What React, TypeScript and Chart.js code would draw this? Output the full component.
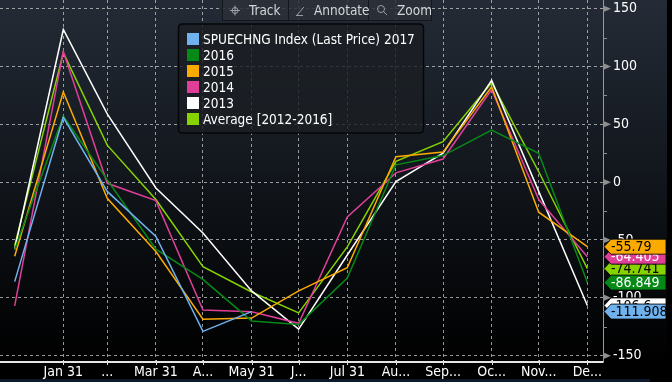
import React, { useEffect, useRef } from 'react';
import { Chart, registerables } from 'chart.js';

Chart.register(...registerables);

const FONT = "'Liberation Sans Narrow', 'DejaVu Sans Condensed', 'Arial Narrow', sans-serif";

// x positions: days since Dec 31 of prior year (month ends)
const dayOffsets = [0, 31, 59, 90, 120, 151, 181, 212, 243, 273, 304, 334, 365];
const tickDays = [31, 59, 90, 120, 151, 181, 212, 243, 273, 304, 334, 365];
const tickLabels = ['Jan 31', '...', 'Mar 31', 'A...', 'May 31', 'J...', 'Jul 31', 'Au...', 'Sep...', 'Oc...', 'Nov...', 'De...'];
const yTicks = [150, 100, 50, 0, -50, -100, -150];

const seriesNames = ['SPUECHNG Index (Last Price) 2017', '2016', '2015', '2014', '2013', 'Average [2012-2016]'];
const seriesColors = ['#6fb2ee', '#068a17', '#fbab00', '#df3f98', '#ffffff', '#86d300'];
const seriesTagText = ['#000000', '#ffffff', '#000000', '#ffffff', '#000000', '#000000'];

const v2017 = [-86, 56, -8, -47, -129, -111.908];
const v2016 = [-58, 57, 2, -58, -84, -120, -123, -83, 15, 23, 45, 25, -86.849];
const v2015 = [-64, 78, -14, -60, -118.5, -117.5, -94, -74, 22, 26, 82.5, -26, -55.79];
const v2014 = [-107, 113, -1, -16, -110.5, -112, -122, -30, 8, 20, 80, -15, -64.405];
const v2013 = [-58, 132, 59, -5, -44, -94, -127, -63, 0.5, 25, 88, -8, -106.6];
const vAvg = [-55, 112, 32, -15, -73, -95, -113, -56, 18, 35, 86, 9, -74.741];

const seriesValues = [v2017, v2016, v2015, v2014, v2013, vAvg];

// draw order of value tags (later = on top)
const tagOrder = [5, 1, 3, 2, 4, 0];

const bgPlugin = {
  id: 'bg',
  beforeDraw(chart: any) {
    const { ctx, width, height } = chart;
    ctx.save();
    ctx.fillStyle = '#000';
    ctx.fillRect(0, 0, width, height);
    const g = ctx.createLinearGradient(0, 0, 0, 362);
    g.addColorStop(0, '#242b36');
    g.addColorStop(0.4, '#151a21');
    g.addColorStop(0.75, '#080a0d');
    g.addColorStop(1, '#000000');
    ctx.fillStyle = g;
    ctx.fillRect(0, 0, 667, 362);
    ctx.fillStyle = '#0c1b2b';
    ctx.fillRect(0, 379, 650, 3);
    ctx.restore();
  },
};

const overlayPlugin = {
  id: 'overlay',
  afterDraw(chart: any) {
    const { ctx } = chart;
    const ys = chart.scales.y;
    const xs = chart.scales.x;
    const right = chart.chartArea.right;
    const bottom = chart.chartArea.bottom;
    ctx.save();

    // y axis markers
    ctx.fillStyle = '#8e8e8e';
    ctx.strokeStyle = '#8e8e8e';
    ctx.lineWidth = 1;
    for (let v = -150; v <= 150; v += 25) {
      const y = ys.getPixelForValue(v);
      if (v % 50 === 0) {
        ctx.beginPath();
        ctx.moveTo(right, y - 3.5);
        ctx.lineTo(right + 8, y);
        ctx.lineTo(right, y + 3.5);
        ctx.closePath();
        ctx.fill();
      } else {
        ctx.beginPath();
        ctx.moveTo(right, Math.round(y) + 0.5);
        ctx.lineTo(right + 4, Math.round(y) + 0.5);
        ctx.stroke();
      }
    }

    // x tick marks
    ctx.strokeStyle = '#e0e0e0';
    for (const d of tickDays) {
      const x = Math.round(xs.getPixelForValue(d)) + 0.5;
      ctx.beginPath();
      ctx.moveTo(x, bottom - 2);
      ctx.lineTo(x, bottom + 3);
      ctx.stroke();
    }

    // toolbar
    ctx.fillStyle = 'rgba(44,48,56,0.85)';
    ctx.fillRect(222, 0, 210, 21);
    ctx.strokeStyle = '#14171b';
    ctx.strokeRect(222.5, -0.5, 209, 21);
    ctx.beginPath();
    ctx.moveTo(288.5, 0); ctx.lineTo(288.5, 21);
    ctx.moveTo(368.5, 0); ctx.lineTo(368.5, 21);
    ctx.stroke();
    ctx.fillStyle = '#d2d5d9';
    ctx.font = `13.5px ${FONT}`;
    ctx.textBaseline = 'middle';
    ctx.textAlign = 'left';
    ctx.fillText('Track', 249, 11);
    ctx.fillText('Annotate', 314, 11);
    ctx.fillText('Zoom', 397, 11);
    ctx.strokeStyle = '#9a9ea4';
    ctx.lineWidth = 1;
    // crosshair
    ctx.beginPath();
    ctx.arc(235, 10.5, 3, 0, Math.PI * 2);
    ctx.moveTo(230, 10.5); ctx.lineTo(240, 10.5);
    ctx.moveTo(235, 5.5); ctx.lineTo(235, 15.5);
    ctx.stroke();
    // pencil
    ctx.beginPath();
    ctx.moveTo(297, 15); ctx.lineTo(304, 7);
    ctx.moveTo(296, 15.5); ctx.lineTo(303, 15.5);
    ctx.stroke();
    // magnifier
    ctx.beginPath();
    ctx.arc(381, 9, 3.5, 0, Math.PI * 2);
    ctx.moveTo(383.5, 11.5); ctx.lineTo(387, 15);
    ctx.stroke();

    // legend box
    ctx.fillStyle = 'rgba(27,30,35,0.82)';
    ctx.strokeStyle = '#050607';
    ctx.lineWidth = 1.5;
    const bx = 178.5, by = 24, bw = 245, bh = 109, r = 4;
    ctx.beginPath();
    ctx.moveTo(bx + r, by);
    ctx.lineTo(bx + bw - r, by);
    ctx.quadraticCurveTo(bx + bw, by, bx + bw, by + r);
    ctx.lineTo(bx + bw, by + bh - r);
    ctx.quadraticCurveTo(bx + bw, by + bh, bx + bw - r, by + bh);
    ctx.lineTo(bx + r, by + bh);
    ctx.quadraticCurveTo(bx, by + bh, bx, by + bh - r);
    ctx.lineTo(bx, by + r);
    ctx.quadraticCurveTo(bx, by, bx + r, by);
    ctx.closePath();
    ctx.fill();
    ctx.stroke();
    ctx.font = `13.5px ${FONT}`;
    ctx.textBaseline = 'middle';
    seriesNames.forEach((name, i) => {
      const cy = 39 + i * 16;
      ctx.fillStyle = seriesColors[i];
      ctx.fillRect(187, cy - 6, 12, 12);
      ctx.fillStyle = '#ffffff';
      ctx.fillText(name, 203, cy + 1);
    });

    // value tags
    ctx.lineWidth = 1;
    for (const i of tagOrder) {
      const vals = seriesValues[i];
      const last = vals[vals.length - 1];
      const yc = ys.getPixelForValue(last);
      const h = 7.5;
      ctx.beginPath();
      ctx.moveTo(right + 1, yc);
      ctx.lineTo(right + 8, yc - h);
      ctx.lineTo(666, yc - h);
      ctx.lineTo(666, yc + h);
      ctx.lineTo(right + 8, yc + h);
      ctx.closePath();
      ctx.fillStyle = seriesColors[i];
      ctx.fill();
      ctx.strokeStyle = 'rgba(0,0,0,0.85)';
      ctx.stroke();
      ctx.fillStyle = seriesTagText[i];
      ctx.font = `14px ${FONT}`;
      ctx.textAlign = 'left';
      ctx.textBaseline = 'middle';
      ctx.fillText(String(last), 611, yc + 1);
    }
    ctx.restore();
  },
};

export default function App() {
  const ref = useRef<HTMLCanvasElement>(null);
  useEffect(() => {
    document.body.style.margin = '0';
    const canvas = ref.current!;
    const chart = new Chart(canvas, {
      type: 'line',
      data: {
        datasets: seriesNames.map((name, i) => ({
          label: name,
          data: seriesValues[i].map((v, j) => ({ x: dayOffsets[j], y: v })),
          borderColor: seriesColors[i],
          backgroundColor: seriesColors[i],
          borderWidth: 1.5,
          pointRadius: 0,
          tension: 0,
          fill: false,
        })),
      },
      options: {
        animation: false,
        responsive: false,
        maintainAspectRatio: false,
        layout: { padding: 0 },
        plugins: { legend: { display: false }, tooltip: { enabled: false } },
        scales: {
          x: {
            type: 'linear',
            min: -9.35,
            max: 374.97,
            afterBuildTicks: (s: any) => {
              s.ticks = tickDays.map((v) => ({ value: v }));
            },
            afterFit: (s: any) => {
              s.height = 20;
              s.paddingLeft = 0;
              s.paddingRight = 0;
              s.paddingTop = 0;
              s.paddingBottom = 0;
            },
            ticks: {
              callback: (v: any) => {
                const k = tickDays.indexOf(Number(v));
                return k >= 0 ? tickLabels[k] : '';
              },
              color: '#ffffff',
              font: { family: FONT, size: 14 },
              padding: 2,
              maxRotation: 0,
              autoSkip: false,
            },
            grid: { color: 'rgba(200,200,200,0.75)', drawTicks: false, lineWidth: 1 },
            border: { display: true, color: '#e6e6e6', width: 2, dash: [3, 3] },
          },
          y: {
            position: 'right',
            min: -155.5,
            max: 157.5,
            afterBuildTicks: (s: any) => {
              s.ticks = yTicks.map((v) => ({ value: v }));
            },
            afterFit: (s: any) => {
              s.width = 69;
              s.paddingLeft = 0;
              s.paddingRight = 0;
              s.paddingTop = 0;
              s.paddingBottom = 0;
            },
            ticks: {
              color: '#ffffff',
              font: { family: FONT, size: 14 },
              padding: 10,
              callback: (v: any) => String(v),
            },
            grid: { color: 'rgba(200,200,200,0.75)', drawTicks: false, lineWidth: 1 },
            border: { display: true, color: '#9a9a9a', width: 1, dash: [3, 3] },
          },
        },
      } as any,
      plugins: [bgPlugin, overlayPlugin],
    });
    return () => chart.destroy();
  }, []);
  return (
    <div style={{ position: 'fixed', left: 0, top: 0, width: 672, height: 382, background: '#000' }}>
      <canvas ref={ref} width={672} height={382} style={{ display: 'block', width: 672, height: 382 }} />
    </div>
  );
}
